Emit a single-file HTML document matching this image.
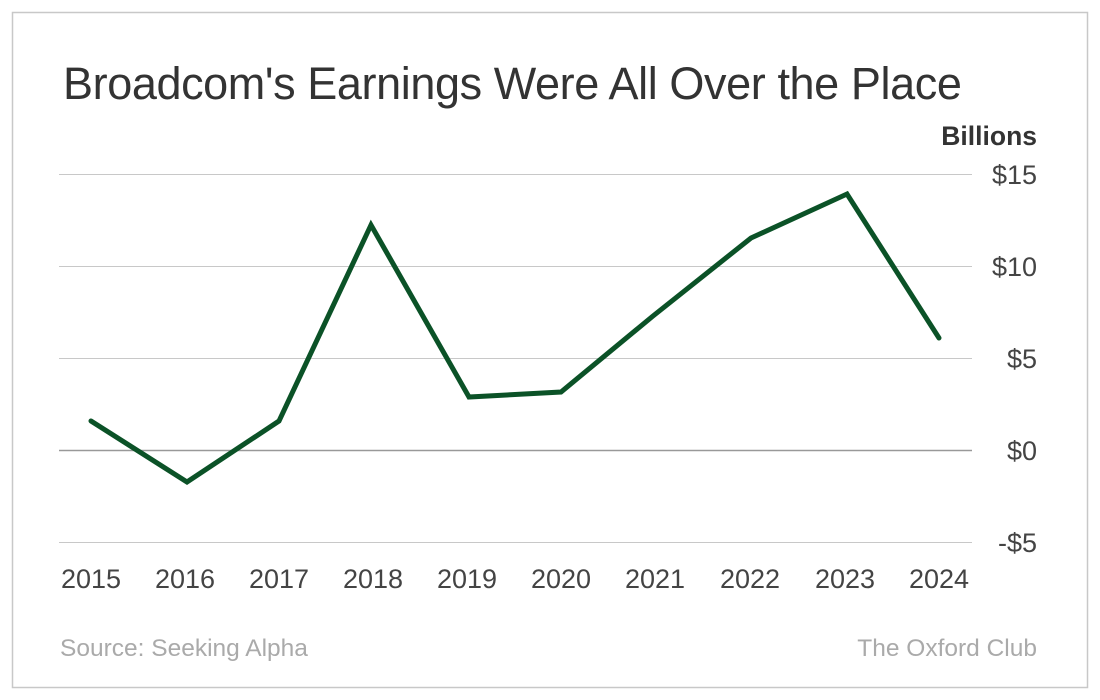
<!DOCTYPE html>
<html><head><meta charset="utf-8"><style>
html,body{margin:0;padding:0;background:#fff;}
svg{display:block;font-family:"Liberation Sans",Arial,sans-serif;}
</style></head><body>
<svg width="1100" height="700" viewBox="0 0 1100 700">
<rect x="12.5" y="12.5" width="1075" height="675" fill="#fff" stroke="#c8c8c8" stroke-width="1.5"/>
<text x="63" y="99" font-size="45" fill="#333" letter-spacing="-0.4">Broadcom's Earnings Were All Over the Place</text>
<text x="1037" y="145" font-size="26.5" font-weight="bold" fill="#333" text-anchor="end">Billions</text>
<g stroke="#c8c8c8" stroke-width="1">
<line x1="59" x2="972" y1="174.5" y2="174.5"/>
<line x1="59" x2="972" y1="266.5" y2="266.5"/>
<line x1="59" x2="972" y1="358.5" y2="358.5"/>
<line x1="59" x2="972" y1="542.5" y2="542.5"/>
</g>
<line x1="59" x2="972" y1="450.5" y2="450.5" stroke="#999" stroke-width="1.5"/>
<g font-size="27" fill="#444" text-anchor="end">
<text x="1037" y="184">$15</text>
<text x="1037" y="276">$10</text>
<text x="1037" y="368">$5</text>
<text x="1037" y="460">$0</text>
<text x="1037" y="552">-$5</text>
</g>
<g font-size="27" fill="#444" text-anchor="middle">
<text x="91" y="588">2015</text><text x="185" y="588">2016</text><text x="279" y="588">2017</text>
<text x="373" y="588">2018</text><text x="467" y="588">2019</text><text x="561" y="588">2020</text>
<text x="655" y="588">2021</text><text x="750" y="588">2022</text><text x="845" y="588">2023</text>
<text x="939" y="588">2024</text>
</g>
<polyline fill="none" stroke="#0b5227" stroke-width="5" stroke-linejoin="miter" stroke-linecap="round"
points="91,421 187,482 279,421 371,225 469,397 561,392 653,316 751,238 847,194 939,338"/>
<text x="60" y="656" font-size="24.5" fill="#aaa">Source: Seeking Alpha</text>
<text x="1037" y="656" font-size="24.5" fill="#aaa" text-anchor="end">The Oxford Club</text>
</svg>
</body></html>
